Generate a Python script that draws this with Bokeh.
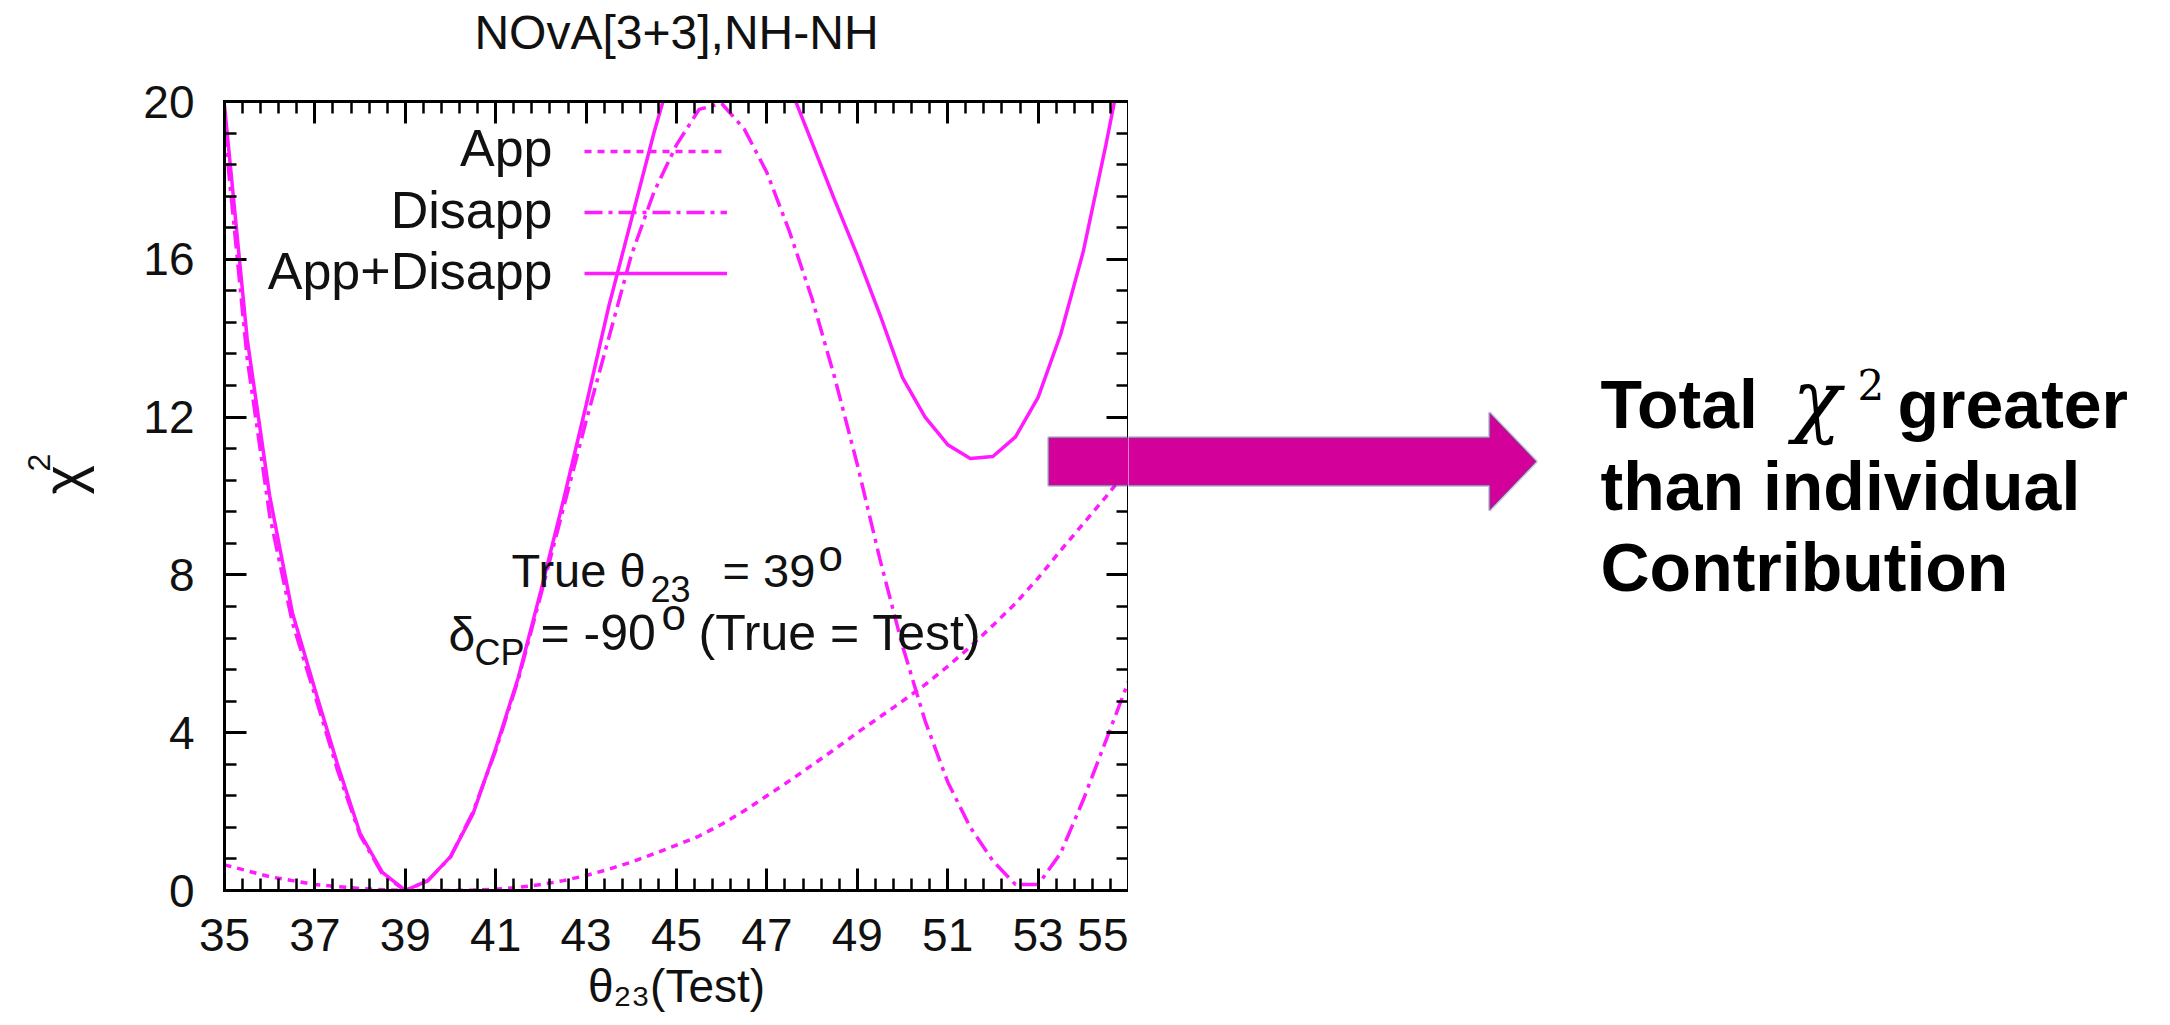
import numpy as np
from bokeh.plotting import figure
from bokeh.layouts import row, column
from bokeh.models import (Range1d, FixedTicker, LinearAxis, Label, PolyAnnotation,
                          Legend, LegendItem, CustomJSTickFormatter)
from bokeh.embed import file_html
from bokeh.resources import INLINE

# ---------------- data ----------------
theta_test = [35.0, 35.5, 36.0, 36.5, 37.0, 37.5, 38.0, 38.5, 39.0, 39.5,
              40.0, 40.5, 41.0, 41.5, 42.0, 42.5, 43.0, 43.5, 44.0, 44.5,
              45.0, 45.5, 46.0, 46.5, 47.0, 47.5, 48.0, 48.5, 49.0, 49.5,
              50.0, 50.5, 51.0, 51.5, 52.0, 52.5, 53.0, 53.5, 54.0, 54.5, 55.0]

chi2_app = [0.65, 0.50, 0.35, 0.25, 0.15, 0.10, 0.05, 0.02, 0.00, 0.00,
            0.00, 0.01, 0.03, 0.08, 0.15, 0.25, 0.38, 0.54, 0.72, 0.93,
            1.15, 1.38, 1.68, 2.02, 2.40, 2.78, 3.18, 3.58, 4.00, 4.40,
            4.80, 5.22, 5.68, 6.18, 6.72, 7.28, 7.92, 8.62, 9.30, 9.98, 10.70]

chi2_disapp = [19.3, 13.5, 9.5, 6.8, 4.95, 3.05, 1.4, 0.4, 0.0, 0.25,
               0.85, 2.0, 3.55, 5.35, 7.5, 9.7, 11.9, 14.0, 16.1, 17.7,
               18.9, 19.8, 19.95, 19.3, 18.2, 16.7, 15.0, 13.0, 10.8, 8.4,
               6.2, 4.3, 2.75, 1.6, 0.75, 0.15, 0.15, 0.95, 2.3, 3.8, 5.3]

chi2_total = [19.9, 14.0, 10.0, 7.05, 5.1, 3.2, 1.45, 0.45, 0.0, 0.25,
              0.86, 1.95, 3.6, 5.4, 7.6, 9.9, 12.3, 14.8, 17.0, 19.2,
              21.2, 22.6, 23.2, 22.9, 22.0, 20.4, 18.95, 17.5, 16.1, 14.6,
              13.0, 12.0, 11.3, 10.95, 11.0, 11.5, 12.5, 14.1, 16.2, 18.9, 21.8]

series_names = ["App", "Disapp", "App+Disapp"]
x_ticks = [35, 37, 39, 41, 43, 45, 47, 49, 51, 53, 55]
y_ticks = [0, 4, 8, 12, 16, 20]
x_minor = [round(v, 2) for v in np.arange(35, 55.001, 0.4)]
y_minor = [round(v, 2) for v in np.arange(0, 20.001, 0.8)]
title_text = "NOvA[3+3],NH-NH"
x_axis_title = "θ₂₃(Test)"

# ---------------- page geometry ----------------
W, H = 2170, 1025
FX0, FX1, FY0, FY1 = 224, 1128, 101, 890   # chart frame in page pixels
X0, X1, Y0, Y1 = 35, 55, 0, 20

LEFT_W = 1128          # width of the left block
TITLE_H = 70           # title strip height
YLAB_W = 100           # y-label strip width
MAIN_H = H - TITLE_H
MAIN_W = LEFT_W - YLAB_W

SANS = "Liberation Sans"
SERIF = "DejaVu Serif"
TXT = "#111111"
MAG = "#ff1aff"
K_MID = 0.385          # baseline -> text-box centre offset (fraction of font size)


def dx(px):
    return X0 + (px - FX0) * (X1 - X0) / (FX1 - FX0)


def dy(py):
    return Y0 + (FY1 - py) * (Y1 - Y0) / (FY1 - FY0)


def ident(v):
    return v


def blank(w, h, x0, x1, y_top, y_bot):
    f = figure(width=w, height=h, x_range=Range1d(x0, x1), y_range=Range1d(y_bot, y_top),
               x_axis_type=None, y_axis_type=None, output_backend="svg",
               toolbar_location=None, min_border=0)
    f.outline_line_color = None
    f.background_fill_color = "white"
    f.border_fill_color = "white"
    return f


def lab(fig, px, base_py, text, size, align="left", font=SANS, style="normal",
        color=TXT, fx=ident, fy=ident):
    """place text so that its baseline sits at page row base_py"""
    fig.add_layout(Label(x=fx(px), y=fy(base_py - K_MID * size), text=text,
                         text_align=align, text_baseline="middle", text_font=font,
                         text_font_style=style, text_font_size=f"{size}px",
                         text_color=color))


def vlab(fig, cx, cy, text, size, font=SANS, color=TXT):
    """rotated (bottom-to-top) text around page point (cx, cy)"""
    fig.add_layout(Label(x=cx, y=cy, text=text, text_align="center",
                         text_baseline="middle", text_font=font,
                         text_font_size=f"{size}px", angle=np.pi / 2,
                         text_color=color))


# ---------------- main chart ----------------
p = figure(width=MAIN_W, height=MAIN_H, x_range=Range1d(X0, X1), y_range=Range1d(Y0, Y1),
           output_backend="svg", toolbar_location=None,
           min_border_left=FX0 - YLAB_W, min_border_right=LEFT_W - FX1,
           min_border_top=FY0 - TITLE_H, min_border_bottom=H - FY1)
p.xgrid.visible = False
p.ygrid.visible = False
p.outline_line_color = None          # frame drawn by the four axis lines
p.background_fill_color = "white"
p.border_fill_color = "white"


def style_axis(ax, ticks, minor, labels=True):
    ax.ticker = FixedTicker(ticks=ticks, minor_ticks=minor)
    ax.axis_line_color = "black"
    ax.axis_line_width = 3
    ax.axis_line_cap = "square"
    ax.major_tick_line_color = "black"
    ax.minor_tick_line_color = "black"
    ax.major_tick_line_width = 3
    ax.minor_tick_line_width = 2.5
    ax.major_tick_in = 22
    ax.major_tick_out = 0
    ax.minor_tick_in = 12
    ax.minor_tick_out = 0
    ax.major_label_text_font = SANS
    ax.major_label_text_font_size = "46px"
    ax.major_label_text_color = TXT
    if not labels:
        ax.formatter = CustomJSTickFormatter(code="return ''")
        ax.major_label_text_font_size = "0px"
        ax.major_label_standoff = 0


style_axis(p.xaxis[0], x_ticks, x_minor)
p.xaxis[0].major_label_standoff = 28
p.xaxis[0].axis_label = x_axis_title
p.xaxis[0].axis_label_text_font = SANS
p.xaxis[0].axis_label_text_font_style = "normal"
p.xaxis[0].axis_label_text_font_size = "46px"
p.xaxis[0].axis_label_text_color = TXT
p.xaxis[0].axis_label_standoff = 6
style_axis(p.yaxis[0], y_ticks, y_minor)
p.yaxis[0].major_label_standoff = 30
p.yaxis[0].major_label_orientation = "horizontal"

top_ax = LinearAxis()
style_axis(top_ax, x_ticks, x_minor, labels=False)
p.add_layout(top_ax, "above")
right_ax = LinearAxis()
style_axis(right_ax, y_ticks, y_minor, labels=False)
p.add_layout(right_ax, "right")

r_app = p.line(theta_test, chi2_app, line_color=MAG, line_width=3.5, line_dash="7 6")
r_dis = p.line(theta_test, chi2_disapp, line_color=MAG, line_width=3.5, line_dash="18 6 4 6")
r_tot = p.line(theta_test, chi2_total, line_color=MAG, line_width=3.5)

legend = Legend(items=[LegendItem(label=" ", renderers=[r]) for r in (r_app, r_dis, r_tot)],
                location=(360, 607), orientation="vertical",
                glyph_width=143, glyph_height=20, spacing=41, padding=0, margin=0,
                label_standoff=0, label_width=0, label_height=20,
                label_text_font_size="8px",
                border_line_alpha=0, background_fill_alpha=0)
p.add_layout(legend)

for name, base in zip(series_names, [168, 230, 291]):
    lab(p, 552, base, name, 52, align="right", fx=dx, fy=dy)

# in-plot annotation
lab(p, 511, 588, "True θ", 47, fx=dx, fy=dy)
lab(p, 650, 602, "23", 36, fx=dx, fy=dy)
lab(p, 722, 588, "= 39", 47, fx=dx, fy=dy)
lab(p, 818, 572, "o", 44, fx=dx, fy=dy)
lab(p, 448, 652, "δ", 48, fx=dx, fy=dy)
lab(p, 474, 666, "CP", 36, fx=dx, fy=dy)
lab(p, 540, 652, "= -90", 50, fx=dx, fy=dy)
lab(p, 661, 631, "o", 44, fx=dx, fy=dy)
lab(p, 698, 652, "(True = Test)", 50, fx=dx, fy=dy)

# arrow part inside the chart frame (drawn over the frame line)
arrow_x = [1048, 1489, 1489, 1536, 1489, 1489, 1048]
arrow_y = [437, 437, 412, 461, 510, 485, 485]
ARROW_FILL = "#d4009a"
ARROW_LINE = "#3e5f8a"
p.add_layout(PolyAnnotation(xs=[dx(v) for v in arrow_x], ys=[dy(v) for v in arrow_y],
                            xs_units="data", ys_units="data", level="overlay",
                            fill_color=ARROW_FILL, fill_alpha=1.0,
                            line_color=ARROW_LINE, line_width=3))

# ---------------- title strip ----------------
f_title = blank(LEFT_W, TITLE_H, 0, LEFT_W, 0, TITLE_H)
lab(f_title, 676, 50, title_text, 48, align="center")

# ---------------- y label strip ----------------
f_ylab = blank(YLAB_W, MAIN_H, 0, YLAB_W, TITLE_H, TITLE_H + MAIN_H)
vlab(f_ylab, 62, 528, "χ", 56)
vlab(f_ylab, 38, 507, "2", 32)

# ---------------- right panel ----------------
f_right = blank(W - LEFT_W, H, LEFT_W, W, 0, H)
f_right.add_layout(PolyAnnotation(xs=arrow_x, ys=arrow_y, xs_units="data", ys_units="data",
                                  fill_color=ARROW_FILL, fill_alpha=1.0,
                                  line_color=ARROW_LINE, line_width=3))
lab(f_right, 1600, 430, "Total", 68, style="bold", color="black")
lab(f_right, 1792, 430, "χ", 80, font=SERIF, style="italic", color="black")
lab(f_right, 1857, 400, "2", 42, font=SERIF, color="black")
lab(f_right, 1897, 430, "greater", 68, style="bold", color="black")
lab(f_right, 1600, 512, "than individual", 68, style="bold", color="black")
lab(f_right, 1600, 593, "Contribution", 68, style="bold", color="black")

page = row(column(f_title, row(f_ylab, p)), f_right)
open("out.html", "w").write(file_html(page, INLINE))
